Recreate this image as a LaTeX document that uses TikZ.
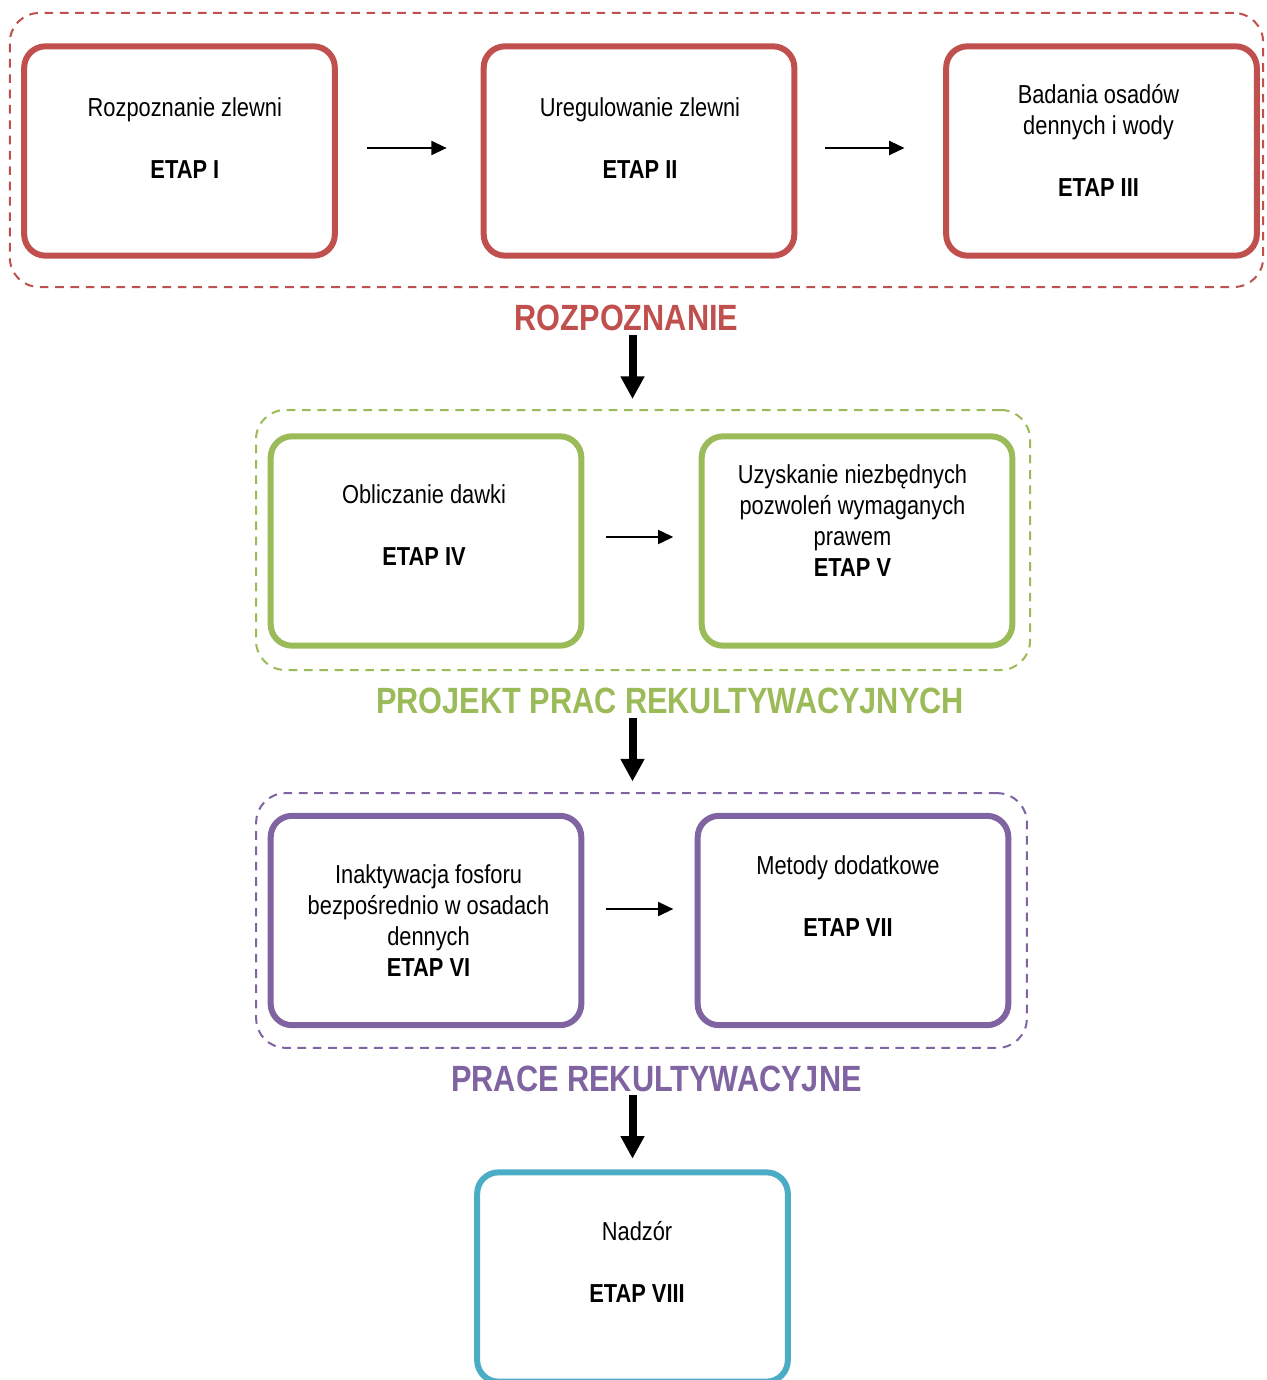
\documentclass[tikz,border=0pt]{standalone}
\usepackage{fontspec}
\setmainfont{Liberation Sans}[FakeStretch=0.84]
\usetikzlibrary{arrows.meta}
\definecolor{rozred}{HTML}{C0504D}
\definecolor{projgreen}{HTML}{9BBB59}
\definecolor{pracpurple}{HTML}{8064A2}
\definecolor{nadzcyan}{HTML}{4BACC6}
\tikzset{
  etapbox/.style={
    rectangle, draw, rounded corners=16pt, line width=4.5pt,
    minimum width=233pt, minimum height=157pt
  },
  etaptext/.style={align=center, inner sep=0pt, font=\fontsize{19.5}{23.25}\selectfont},
  phase/.style={rectangle, draw, dash pattern=on 6.5pt off 5pt, line width=1.5pt, rounded corners=22pt},
  phaselabel/.style={inner sep=0pt, font=\fontsize{27.4}{30}\selectfont\bfseries},
  flowarrow/.style={-{Triangle[length=11.5pt,width=10.5pt]}, line width=1.6pt},
  phasearrow/.style={-{Triangle[length=17pt,width=17pt]}, line width=6pt}
}

\begin{document}
\begin{tikzpicture}[x=0.75pt, y=-0.75pt]
  \clip (0,0) rectangle (1266,1380);

  % group frames
  \node[phase, rozred, minimum width=940pt, minimum height=205.5pt] (grp1) at (636.5,150) {};
  \node[phase, projgreen, minimum width=580.5pt, minimum height=195pt] (grp2) at (643,540) {};
  \node[phase, pracpurple, minimum width=578pt, minimum height=191pt] (grp3) at (641.5,920.5) {};

  % stages
  \node[etapbox, rozred] (e1) at (179.5,151) {};
  \node[etapbox, rozred] (e2) at (639,151) {};
  \node[etapbox, rozred] (e3) at (1101.5,151) {};
  \node[etapbox, projgreen] (e4) at (426,541) {};
  \node[etapbox, projgreen] (e5) at (857,541) {};
  \node[etapbox, pracpurple] (e6) at (426,920.5) {};
  \node[etapbox, pracpurple] (e7) at (853,920.5) {};
  \node[etapbox, nadzcyan] (e8) at (632.5,1277) {};

  \node[etaptext] (t1) at ([xshift=4pt, yshift=10pt]e1.center) {Rozpoznanie zlewni\\[23.25pt]\textbf{ETAP I}};
  \node[etaptext] (t2) at ([xshift=0.75pt, yshift=10pt]e2.center) {Uregulowanie zlewni\\[23.25pt]\textbf{ETAP II}};
  \node[etaptext] (t3) at ([xshift=-2.25pt, yshift=8pt]e3.center) {Badania osadów\\dennych i wody\\[23.25pt]\textbf{ETAP III}};
  \node[etaptext] (t4) at ([xshift=-1.5pt, yshift=11.6pt]e4.center) {Obliczanie dawki\\[23.25pt]\textbf{ETAP IV}};
  \node[etaptext] (t5) at ([xshift=-3.4pt, yshift=15pt]e5.center) {Uzyskanie niezbędnych\\pozwoleń wymaganych\\prawem\\\textbf{ETAP V}};
  \node[etaptext] (t6) at ([xshift=1.9pt]e6.center) {Inaktywacja fosforu\\bezpośrednio w osadach\\dennych\\\textbf{ETAP VI}};
  \node[etaptext] (t7) at ([xshift=-3.75pt, yshift=18pt]e7.center) {Metody dodatkowe\\[23.25pt]\textbf{ETAP VII}};
  \node[etaptext] (t8) at ([xshift=3.4pt, yshift=11.6pt]e8.center) {Nadzór\\[23.25pt]\textbf{ETAP VIII}};

  % group titles
  \node[phaselabel, rozred] (lab1) at (626.5,318) {ROZPOZNANIE};
  \node[phaselabel, projgreen] (lab2) at (670,701) {PROJEKT PRAC REKULTYWACYJNYCH};
  \node[phaselabel, pracpurple] (lab3) at (656.5,1079) {PRACE REKULTYWACYJNE};

  % arrows
  \draw[flowarrow, shorten <=22pt, shorten >=25.5pt] ([yshift=2.25pt]e1.east) -- ([yshift=2.25pt]e2.west);
  \draw[flowarrow, shorten <=21pt, shorten >=29pt] ([yshift=2.25pt]e2.east) -- ([yshift=2.25pt]e3.west);
  \draw[flowarrow, shorten <=16.5pt, shorten >=19pt] ([yshift=3pt]e4.east) -- ([yshift=3pt]e5.west);
  \draw[flowarrow, shorten <=16.5pt, shorten >=16pt] ([yshift=8.6pt]e6.east) -- ([yshift=8.6pt]e7.west);

  \draw[phasearrow, shorten <=3pt, shorten >=7.5pt] (lab1.south -| e8.center) -- (grp2.north -| e8.center);
  \draw[phasearrow, shorten <=3pt, shorten >=8pt] (lab2.south -| e8.center) -- (grp3.north -| e8.center);
  \draw[phasearrow, shorten <=2pt, shorten >=8pt] (lab3.south -| e8.center) -- (e8.north);
\end{tikzpicture}
\end{document}
